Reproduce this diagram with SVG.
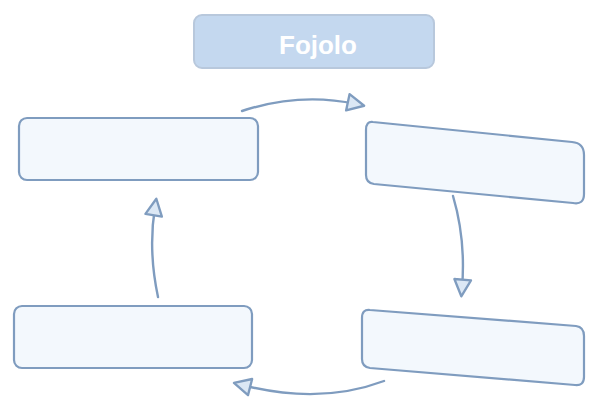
<svg xmlns="http://www.w3.org/2000/svg" width="597" height="404" viewBox="0 0 597 404">
<style>
.node{fill:#f3f8fd;stroke:#7f9cbf;stroke-width:2.2;stroke-linejoin:round}
.conn{fill:none;stroke:#7f9cbf;stroke-width:2.4;stroke-linecap:round}
.title-text{font-family:"Liberation Sans",Arial,sans-serif;font-size:26px;font-weight:bold;fill:#ffffff}
</style>
<defs>
<marker id="arr" viewBox="0 0 12 12" refX="6" refY="6" markerWidth="20" markerHeight="20" markerUnits="userSpaceOnUse" orient="auto">
<path d="M1,1 L11,6 L1,11 Z" fill="#dce8f5" stroke="#7f9cbf" stroke-width="1.4" stroke-linejoin="round"/>
</marker>
</defs>
<rect width="597" height="404" fill="#ffffff"/>
<g id="title">
<rect x="194" y="15" width="240" height="53" rx="8" fill="#c4d8ef" stroke="#b8c8dc" stroke-width="2"/>
<text x="318" y="54" text-anchor="middle" class="title-text">Fojolo</text>
</g>
<g id="connectors">
<path class="conn" d="M242,111 Q300,92 356,104" marker-end="url(#arr)"/>
<path class="conn" d="M453,196 Q466,240 462,288" marker-end="url(#arr)"/>
<path class="conn" d="M384,381 Q320,405 242,385" marker-end="url(#arr)"/>
<path class="conn" d="M158,297 Q148,250 155,207" marker-end="url(#arr)"/>
</g>
<g id="node-tl">
<rect class="node" x="19" y="118" width="239" height="62" rx="8"/>
</g>
<g id="node-tr">
<path class="node" d="M373,122 L572,142 Q584,143 584,155 L584,194 Q584,205 573,203 L374,184 Q366,183 366,175 L366,130 Q366,121 373,122 Z"/>
</g>
<g id="node-bl">
<rect class="node" x="14" y="306" width="238" height="62" rx="8"/>
</g>
<g id="node-br">
<path class="node" d="M370,310 L576,326 Q584,327 584,336 L584,377 Q584,386 575,385 L370,368 Q362,367 362,359 L362,318 Q362,309 370,310 Z"/>
</g>
</svg>
